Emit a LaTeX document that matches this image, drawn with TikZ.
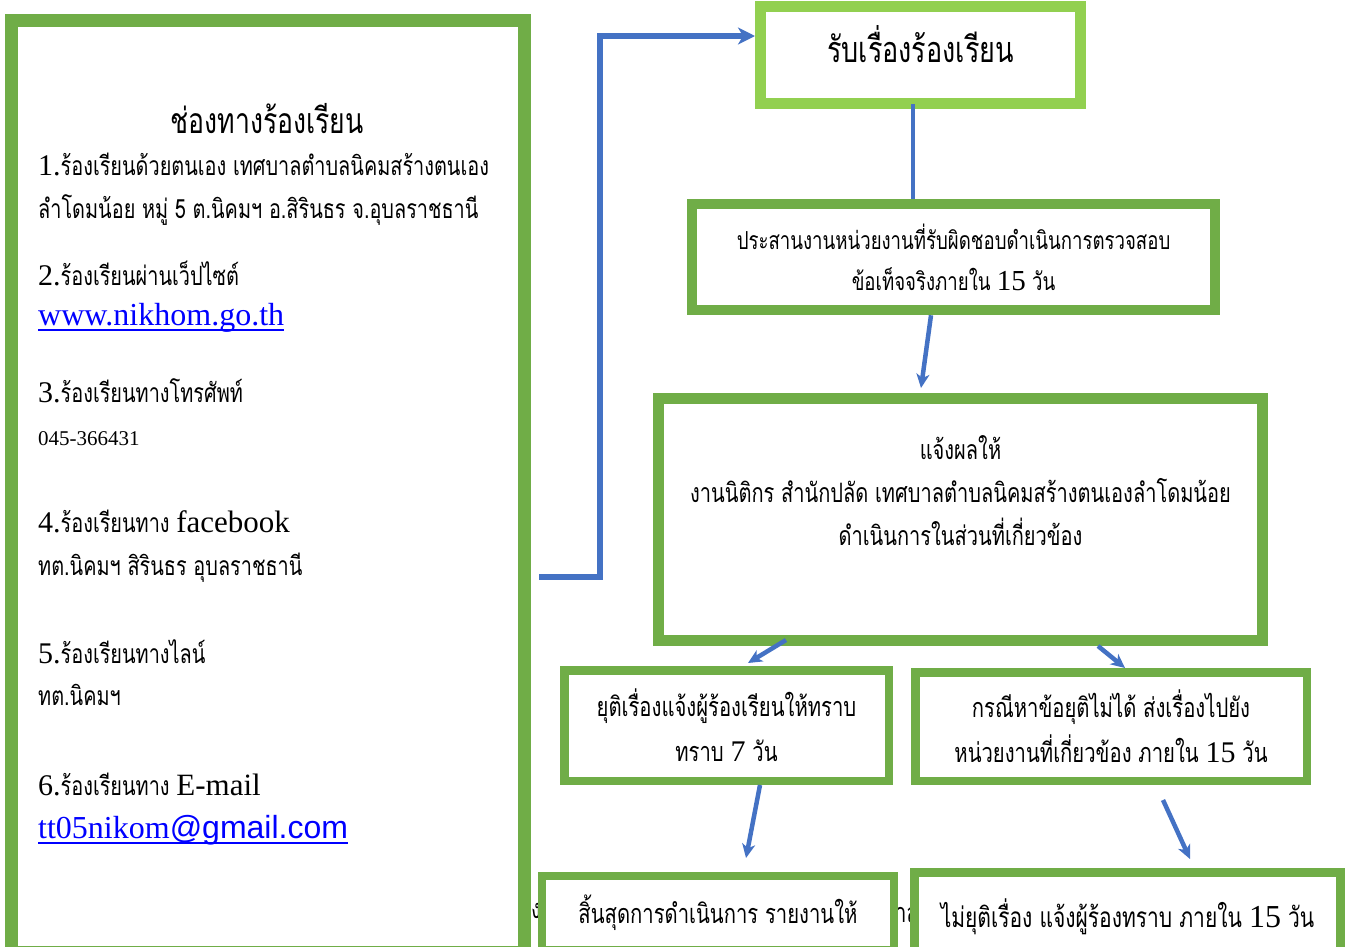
\documentclass[tikz,border=0pt]{standalone}
\usepackage{fontspec}
\setmainfont{Liberation Serif}
\newfontfamily\thaifont[Script=Thai,FakeStretch=0.75]{Loma}
\newfontfamily\arialfont{Liberation Sans}
\usetikzlibrary{arrows.meta,positioning}
\definecolor{darkgreen}{HTML}{70AD47}
\definecolor{lightgreen}{HTML}{92D050}
\definecolor{flowblue}{HTML}{4472C4}
\definecolor{linkblue}{HTML}{0000FF}
\newcommand{\romtext}[2][30]{{\rmfamily\fontsize{#1}{#1}\selectfont #2}}
\tikzset{
  outerbox/.style={draw=darkgreen, line width=13pt, fill=white, minimum width=513pt, minimum height=932pt},
  greenbox/.style={draw=darkgreen, fill=white, align=center, inner sep=0pt},
  limebox/.style={draw=lightgreen, line width=11pt, fill=white, align=center, inner sep=0pt},
  channel/.style={anchor=base west, inner sep=0pt, font=\thaifont\fontsize{26.5}{30}\selectfont},
  weblink/.style={anchor=base west, inner sep=0pt, text=linkblue},
  flow/.style={draw=flowblue, line width=4.5pt, -{Stealth[length=14pt,width=13pt,inset=4pt]}},
  mainflow/.style={draw=flowblue, line width=5.5pt, -{Stealth[length=17pt,width=17pt,inset=5pt]}},
  joint/.style={draw=flowblue, line width=4pt},
}
\begin{document}
\begin{tikzpicture}[x=1pt,y=-1pt]
    \useasboundingbox (0,0) rectangle (1346,946);
    \clip (0,0) rectangle (1346,946);
    \node[outerbox] at (268,486) (channels) {};
    \node[channel, anchor=base, font=\thaifont\fontsize{35.5}{40}\selectfont] at (267,133) (title) {ช่องทางร้องเรียน};
    \node[channel] at (38,175) (way1) {\romtext{1.}ร้องเรียนด้วยตนเอง เทศบาลตำบลนิคมสร้างตนเอง};
    \node[channel] at (38,218) (way1b) {ลำโดมน้อย หมู่ 5 ต.นิคมฯ อ.สิรินธร จ.อุบลราชธานี};
    \node[channel] at (38,285) (way2) {\romtext{2.}ร้องเรียนผ่านเว็ปไซต์};
    \node[weblink] at (38,325) (site) {\romtext[32]{www.nikhom.go.th}};
    \node[channel] at (38,402) (way3) {\romtext{3.}ร้องเรียนทางโทรศัพท์};
    \node[weblink, text=black] at (38,445) (phone) {\romtext[21]{045-366431}};
    \node[channel] at (38,532) (way4) {\romtext{4.}ร้องเรียนทาง \romtext[31]{facebook}};
    \node[channel] at (38,575) (way4b) {ทต.นิคมฯ สิรินธร อุบลราชธานี};
    \node[channel] at (38,663) (way5) {\romtext{5.}ร้องเรียนทางไลน์};
    \node[channel] at (38,705) (way5b) {ทต.นิคมฯ};
    \node[channel] at (38,795) (way6) {\romtext{6.}ร้องเรียนทาง \romtext[31]{E-mail}};
    \node[weblink] at (38,838) (mail) {\romtext[32]{tt05nikom}{\arialfont\fontsize{32}{32}\selectfont @gmail.com}};
    \draw[linkblue, line width=1.5pt] ([yshift=-5pt]site.base west) -- ([yshift=-5pt]site.base east);
    \draw[linkblue, line width=1.5pt] ([yshift=-5pt]mail.base west) -- ([yshift=-5pt]mail.base east);

    \node[channel, font=\thaifont\fontsize{27}{30}\selectfont] at (531,918) (strayleft) {ง};
    \node[channel, font=\thaifont\fontsize{27}{30}\selectfont] at (895,922) (strayright) {าส};

    \node[limebox, minimum width=320pt, minimum height=97pt, text height=30pt, text depth=16pt, font=\thaifont\fontsize{36}{40}\selectfont] at (920.5,55) (receive) {รับเรื่องร้องเรียน};
    \node[greenbox, line width=10.5pt, minimum width=523pt, minimum height=106pt, font=\thaifont\fontsize{24.8}{41}\selectfont] at (953.5,257) (coord) {ประสานงานหน่วยงานที่รับผิดชอบดำเนินการตรวจสอบ\\ข้อเท็จจริงภายใน \romtext[29]{15} วัน};
    \node[greenbox, line width=11pt, minimum width=604pt, minimum height=242pt, font=\thaifont\fontsize{26.7}{43}\selectfont] at (960.5,519.5) (notify) {\parbox[c][230pt][t]{600pt}{\centering\vspace*{31pt}แจ้งผลให้\\งานนิติกร สำนักปลัด เทศบาลตำบลนิคมสร้างตนเองลำโดมน้อย\\ดำเนินการในส่วนที่เกี่ยวข้อง}};
    \node[greenbox, line width=8.5pt, minimum width=324.5pt, minimum height=110.5pt, font=\thaifont\fontsize{27}{45}\selectfont] at (726.5,725.5) (close) {ยุติเรื่องแจ้งผู้ร้องเรียนให้ทราบ\\ทราบ \romtext{7} วัน};
    \node[greenbox, line width=8.5pt, minimum width=391.5pt, minimum height=108.5pt, font=\thaifont\fontsize{27}{45}\selectfont] at (1111,726.5) (forward) {กรณีหาข้อยุติไม่ได้ ส่งเรื่องไปยัง\\หน่วยงานที่เกี่ยวข้อง ภายใน \romtext{15} วัน};
    \node[greenbox, line width=8pt, minimum width=352pt, minimum height=74pt, font=\thaifont\fontsize{27}{30}\selectfont] at (718,913) (finish) {สิ้นสุดการดำเนินการ รายงานให้};
    \node[greenbox, line width=9pt, minimum width=426pt, minimum height=89pt, font=\thaifont\fontsize{28}{30}\selectfont] at (1127.5,917) (reject) {ไม่ยุติเรื่อง แจ้งผู้ร้องทราบ ภายใน \romtext[32]{15} วัน};

    \coordinate (exit) at (539,577);
    \draw[mainflow] (exit) -- ++(61,0) |- ([yshift=19pt]receive.west);
    \draw[joint] ([xshift=-7.5pt,yshift=5pt]receive.south) -- ([xshift=-40.5pt]coord.north);
    \draw[flow] ([xshift=-22.5pt]coord.south) -- ([xshift=-39.5pt,yshift=5pt]notify.north);
    \draw[flow] ([xshift=-174.5pt,yshift=6pt]notify.south) -- ([xshift=21.5pt,yshift=3pt]close.north);
    \draw[flow] ([xshift=137.5pt]notify.south) -- ([xshift=14pt]forward.north);
    \draw[flow] ([xshift=33.5pt]close.south) -- ([xshift=28pt,yshift=14pt]finish.north);
    \draw[flow] ([xshift=52pt,yshift=-15pt]forward.south) -- ([xshift=62.5pt,yshift=9pt]reject.north);
\end{tikzpicture}
\end{document}
